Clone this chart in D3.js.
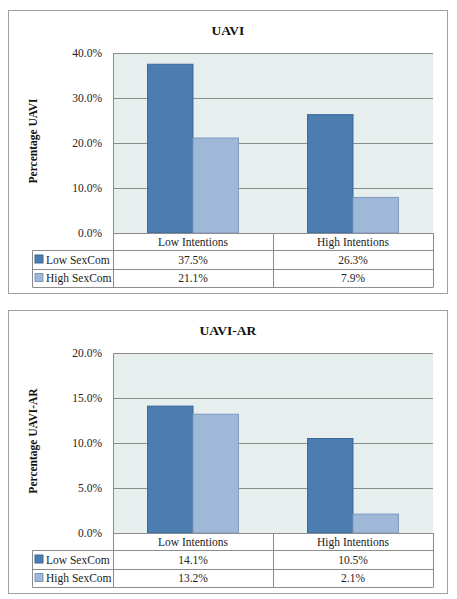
<!DOCTYPE html>
<html><head><meta charset="utf-8">
<script src="https://cdn.jsdelivr.net/npm/d3@7"></script>
<style>
html,body{margin:0;padding:0;background:#fff;}
svg{display:block;}
text{font-family:"Liberation Serif","DejaVu Serif",serif;}
</style></head>
<body>
<svg id="chart" width="457" height="599"></svg>
<script>
const categories = ["Low Intentions", "High Intentions"];
const seriesNames = ["Low SexCom", "High SexCom"];
const uaviLow = [37.5, 26.3];
const uaviHigh = [21.1, 7.9];
const uaviTicks = [0, 10, 20, 30, 40];
const uaviarLow = [14.1, 10.5];
const uaviarHigh = [13.2, 2.1];
const uaviarTicks = [0, 5, 10, 15, 20];
const titles = ["UAVI", "UAVI-AR"];
const yTitles = ["Percentage UAVI", "Percentage UAVI-AR"];

const colors = ["#4b7db0", "#9fb8d8"];
const strokes = ["#3b6898", "#7d99bf"];

const svg = d3.select("#chart");

function drawChart(offsetY, title, yTitle, lowVals, highVals, ticks) {
  const g = svg.append("g").attr("transform", `translate(0,${offsetY})`);
  const series = [lowVals, highVals];
  // outer frame
  g.append("rect").attr("x", 8.5).attr("y", 10.5).attr("width", 439).attr("height", 283)
    .attr("fill", "#fff").attr("stroke", "#a0a0a0").attr("stroke-width", 1);
  g.append("text").attr("x", 228).attr("y", 35).attr("text-anchor", "middle")
    .attr("font-size", 13.5).attr("font-weight", "bold").attr("fill", "#111").text(title);

  const left = 113, right = 433, top = 53, bottom = 233;
  const x = d3.scaleBand().domain(categories).range([left, right]);
  const y = d3.scaleLinear().domain([ticks[0], ticks[ticks.length - 1]]).range([bottom, top]);
  const xs = d3.scaleBand().domain(seriesNames).range([0, x.bandwidth()]).paddingInner(0).paddingOuter(0.76);

  g.append("rect").attr("x", left).attr("y", top).attr("width", right - left).attr("height", bottom - top)
    .attr("fill", "#e7eeee");
  // gridlines
  g.append("g").selectAll("line").data(ticks).join("line")
    .attr("x1", left).attr("x2", right)
    .attr("y1", d => Math.round(y(d)) + 0.5).attr("y2", d => Math.round(y(d)) + 0.5)
    .attr("stroke", "#8c8c8c").attr("stroke-width", 1);
  g.append("line").attr("x1", left + 0.5).attr("x2", left + 0.5).attr("y1", top).attr("y2", bottom)
    .attr("stroke", "#8c8c8c");

  // y axis labels
  const yAxis = d3.axisLeft(y).tickValues(ticks).tickSize(0).tickPadding(11)
    .tickFormat(d => d.toFixed(1) + "%");
  const ya = g.append("g").attr("transform", `translate(${left},0)`).call(yAxis);
  ya.select(".domain").remove();
  ya.selectAll("text").attr("font-size", 11.5).attr("fill", "#222")
    .attr("font-family", "'Liberation Serif','DejaVu Serif',serif");

  g.append("text").attr("transform", `translate(37,${(top + bottom) / 2 - 2}) rotate(-90)`)
    .attr("text-anchor", "middle").attr("font-size", 11.5).attr("font-weight", "bold")
    .attr("fill", "#111").text(yTitle);

  // bars
  seriesNames.forEach((s, si) => {
    g.append("g").selectAll("rect").data(categories).join("rect")
      .attr("x", c => x(c) + xs(s))
      .attr("y", (c, i) => y(series[si][i]))
      .attr("width", xs.bandwidth())
      .attr("height", (c, i) => y(0) - y(series[si][i]))
      .attr("fill", colors[si]).attr("stroke", strokes[si]).attr("stroke-width", 1);
  });

  // data table
  const rowH = [17, 19, 18];
  const rowY = [bottom, bottom + rowH[0], bottom + rowH[0] + rowH[1], bottom + rowH[0] + rowH[1] + rowH[2]];
  const tableLeft = 32.5;
  const lineC = "#8c8c8c";
  const tg = g.append("g");
  tg.append("line").attr("x1", left).attr("x2", right).attr("y1", rowY[0] + 0.5).attr("y2", rowY[0] + 0.5).attr("stroke", lineC);
  [1, 2, 3].forEach(r => {
    tg.append("line").attr("x1", tableLeft).attr("x2", right).attr("y1", rowY[r] + 0.5).attr("y2", rowY[r] + 0.5).attr("stroke", lineC);
  });
  tg.append("line").attr("x1", tableLeft).attr("x2", tableLeft).attr("y1", rowY[1] + 0.5).attr("y2", rowY[3] + 0.5).attr("stroke", lineC);
  [left, left + x.bandwidth(), right].forEach(xx => {
    tg.append("line").attr("x1", Math.round(xx) + 0.5).attr("x2", Math.round(xx) + 0.5)
      .attr("y1", rowY[0]).attr("y2", rowY[3] + 0.5).attr("stroke", lineC);
  });
  tg.selectAll("text.hdr").data(categories).join("text").attr("class", "hdr")
    .attr("x", c => x(c) + x.bandwidth() / 2).attr("y", rowY[0] + 13)
    .attr("text-anchor", "middle").attr("font-size", 11.5).attr("fill", "#222").text(c => c);
  seriesNames.forEach((s, si) => {
    const ry = rowY[si + 1];
    tg.append("rect").attr("x", 35).attr("y", ry + rowH[si + 1] / 2 - 4.5).attr("width", 8).attr("height", 8)
      .attr("fill", colors[si]).attr("stroke", strokes[si]);
    tg.append("text").attr("x", 46).attr("y", ry + rowH[si + 1] / 2 + 4)
      .attr("font-size", 11.5).attr("fill", "#222").text(s);
    tg.append("g").selectAll("text").data(categories).join("text")
      .attr("x", c => x(c) + x.bandwidth() / 2).attr("y", ry + rowH[si + 1] / 2 + 4)
      .attr("text-anchor", "middle").attr("font-size", 11.5).attr("fill", "#222")
      .text((c, i) => series[si][i].toFixed(1) + "%");
  });
}

drawChart(0, titles[0], yTitles[0], uaviLow, uaviHigh, uaviTicks);
drawChart(300, titles[1], yTitles[1], uaviarLow, uaviarHigh, uaviarTicks);
</script>
</body></html>
